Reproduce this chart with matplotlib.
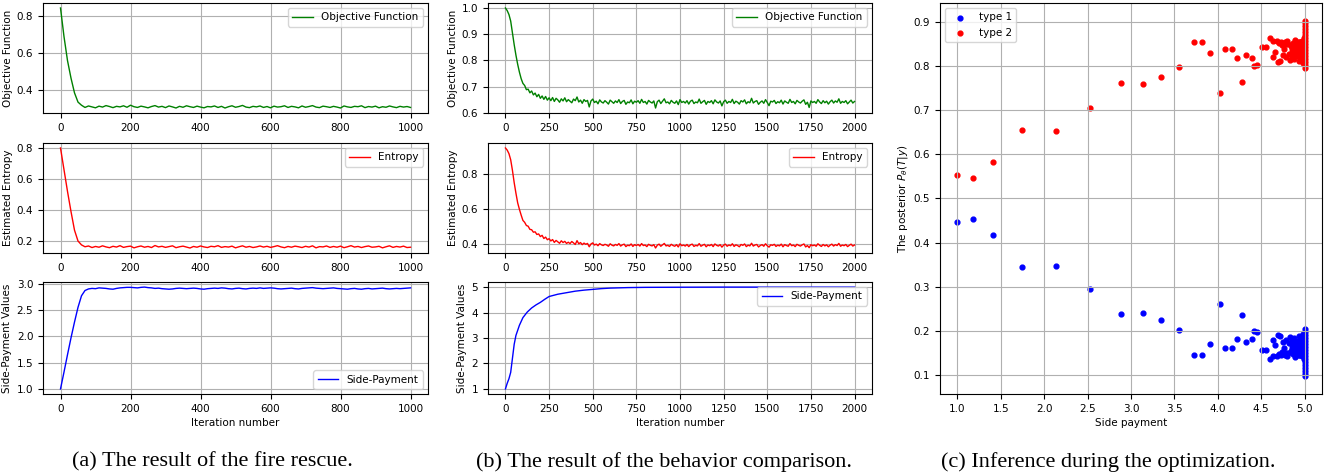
import matplotlib
matplotlib.use("Agg")
import matplotlib.pyplot as plt

# ---- (a) fire rescue, sampled every 10 iterations ----
iters_a = list(range(0, 1001, 10))

objective_a = [0.845, 0.690, 0.560, 0.465, 0.385, 0.335, 0.318, 0.306, 0.314, 0.309,
               0.304, 0.313, 0.308, 0.316, 0.311, 0.305, 0.312, 0.309, 0.315, 0.307,
               0.318, 0.310, 0.306, 0.313, 0.309, 0.304, 0.311, 0.316, 0.308, 0.312,
               0.305, 0.314, 0.309, 0.303, 0.312, 0.307, 0.315, 0.310, 0.306, 0.313,
               0.308, 0.304, 0.311, 0.309, 0.314, 0.306, 0.312, 0.303, 0.310, 0.315,
               0.307, 0.311, 0.317, 0.308, 0.305, 0.312, 0.309, 0.314, 0.306, 0.311,
               0.304, 0.313, 0.308, 0.310, 0.315, 0.306, 0.312, 0.309, 0.304, 0.314,
               0.307, 0.311, 0.316, 0.308, 0.305, 0.313, 0.310, 0.306, 0.312, 0.308,
               0.303, 0.314, 0.309, 0.306, 0.312, 0.310, 0.315, 0.305, 0.311, 0.308,
               0.313, 0.304, 0.310, 0.307, 0.314, 0.309, 0.305, 0.312, 0.308, 0.311, 0.306]

entropy_a = [0.800, 0.660, 0.520, 0.390, 0.270, 0.200, 0.175, 0.163, 0.168, 0.158,
             0.165, 0.160, 0.169, 0.162, 0.157, 0.166, 0.161, 0.170, 0.159, 0.164,
             0.167, 0.156, 0.163, 0.168, 0.160, 0.165, 0.158, 0.171, 0.162, 0.166,
             0.159, 0.164, 0.169, 0.157, 0.163, 0.167, 0.161, 0.155, 0.165, 0.160,
             0.168, 0.162, 0.158, 0.166, 0.163, 0.170, 0.159, 0.164, 0.161, 0.167,
             0.156, 0.163, 0.169, 0.160, 0.165, 0.158, 0.162, 0.168, 0.161, 0.166,
             0.159, 0.164, 0.170, 0.162, 0.157, 0.165, 0.160, 0.167, 0.163, 0.158,
             0.166, 0.161, 0.169, 0.156, 0.164, 0.162, 0.168, 0.159, 0.165, 0.160,
             0.167, 0.157, 0.163, 0.170, 0.161, 0.165, 0.158, 0.164, 0.168, 0.160,
             0.162, 0.166, 0.156, 0.163, 0.169, 0.159, 0.165, 0.161, 0.167, 0.158, 0.160]

side_payment_a = [1.00, 1.32, 1.65, 1.97, 2.27, 2.55, 2.77, 2.87, 2.90, 2.91,
                  2.905, 2.92, 2.915, 2.91, 2.90, 2.895, 2.91, 2.92, 2.925, 2.93,
                  2.93, 2.925, 2.92, 2.93, 2.935, 2.925, 2.92, 2.91, 2.915, 2.905,
                  2.90, 2.895, 2.90, 2.91, 2.915, 2.91, 2.905, 2.91, 2.915, 2.91,
                  2.90, 2.895, 2.905, 2.91, 2.915, 2.91, 2.92, 2.915, 2.905, 2.90,
                  2.91, 2.915, 2.905, 2.90, 2.91, 2.915, 2.91, 2.92, 2.91, 2.915,
                  2.92, 2.915, 2.905, 2.90, 2.905, 2.91, 2.915, 2.905, 2.90, 2.91,
                  2.915, 2.92, 2.925, 2.915, 2.91, 2.905, 2.91, 2.915, 2.92, 2.91,
                  2.905, 2.90, 2.895, 2.905, 2.91, 2.90, 2.895, 2.905, 2.91, 2.90,
                  2.905, 2.91, 2.915, 2.905, 2.90, 2.905, 2.91, 2.905, 2.91, 2.915, 2.92]

# ---- (b) behavior comparison, sampled every 10 iterations ----
iters_b = list(range(0, 2001, 10))

objective_b = [1.000, 0.990, 0.975, 0.950, 0.905, 0.860, 0.820, 0.785, 0.755, 0.730,
               0.712, 0.704, 0.688, 0.690, 0.676, 0.683, 0.668, 0.675, 0.661, 0.670,
               0.655, 0.664, 0.651, 0.662, 0.648, 0.657,
               0.646, 0.658, 0.643, 0.655, 0.649, 0.640, 0.653, 0.645, 0.657, 0.642,
               0.650, 0.644, 0.638, 0.652, 0.646, 0.660, 0.641, 0.648, 0.636, 0.650,
               0.643, 0.647, 0.622, 0.645, 0.652, 0.639, 0.644, 0.634, 0.649, 0.641,
               0.637, 0.646, 0.640, 0.633, 0.648, 0.642, 0.636, 0.645, 0.639, 0.650,
               0.635, 0.643, 0.647, 0.632, 0.641, 0.638, 0.649, 0.634, 0.644, 0.640,
               0.646, 0.636, 0.651, 0.639, 0.643, 0.633, 0.647, 0.641, 0.637, 0.645,
               0.618, 0.642, 0.648, 0.635, 0.644, 0.653, 0.638, 0.641, 0.634, 0.647,
               0.640, 0.636, 0.645, 0.631, 0.650, 0.639, 0.643, 0.637, 0.646, 0.633,
               0.644, 0.648, 0.635, 0.641, 0.638, 0.652, 0.636, 0.642, 0.647, 0.632,
               0.643, 0.639, 0.646, 0.634, 0.649, 0.641, 0.637, 0.645, 0.626, 0.642,
               0.648, 0.636, 0.643, 0.639, 0.651, 0.635, 0.644, 0.640, 0.633, 0.646,
               0.641, 0.649, 0.634, 0.642, 0.638, 0.655, 0.637, 0.643, 0.646, 0.632,
               0.640, 0.645, 0.636, 0.650, 0.639, 0.627, 0.644, 0.641, 0.647, 0.635,
               0.642, 0.638, 0.648, 0.633, 0.645, 0.640, 0.636, 0.651, 0.639, 0.643,
               0.634, 0.647, 0.641, 0.637, 0.644, 0.649, 0.632, 0.640, 0.620, 0.645,
               0.639, 0.643, 0.636, 0.650, 0.641, 0.635, 0.646, 0.638, 0.644, 0.633,
               0.642, 0.648, 0.637, 0.645, 0.640, 0.653, 0.636, 0.643, 0.639, 0.646,
               0.634, 0.641, 0.648, 0.637, 0.643]

entropy_b = [0.947, 0.935, 0.915, 0.880, 0.820, 0.750, 0.690, 0.635, 0.598, 0.565,
             0.535, 0.524, 0.506, 0.502, 0.484, 0.482, 0.468, 0.470, 0.455, 0.458,
             0.443, 0.450, 0.432, 0.440, 0.425, 0.431,
             0.418, 0.426, 0.410, 0.421, 0.413, 0.405, 0.419, 0.409, 0.416, 0.404,
             0.411, 0.403, 0.415, 0.407, 0.398, 0.420, 0.402, 0.409, 0.397, 0.406,
             0.399, 0.404, 0.385, 0.401, 0.407, 0.395, 0.400, 0.391, 0.403, 0.396,
             0.392, 0.399, 0.395, 0.388, 0.402, 0.394, 0.390, 0.398, 0.393, 0.403,
             0.389, 0.396, 0.400, 0.386, 0.394, 0.391, 0.401, 0.387, 0.397, 0.392,
             0.398, 0.389, 0.403, 0.392, 0.395, 0.386, 0.399, 0.393, 0.390, 0.397,
             0.378, 0.394, 0.400, 0.388, 0.396, 0.404, 0.390, 0.393, 0.387, 0.399,
             0.392, 0.388, 0.397, 0.384, 0.402, 0.391, 0.395, 0.389, 0.398, 0.386,
             0.396, 0.400, 0.387, 0.393, 0.390, 0.403, 0.388, 0.394, 0.399, 0.385,
             0.395, 0.391, 0.398, 0.386, 0.401, 0.393, 0.389, 0.397, 0.383, 0.394,
             0.400, 0.388, 0.395, 0.391, 0.402, 0.387, 0.396, 0.392, 0.385, 0.398,
             0.393, 0.401, 0.386, 0.394, 0.390, 0.405, 0.389, 0.395, 0.398, 0.384,
             0.392, 0.397, 0.388, 0.402, 0.391, 0.383, 0.396, 0.393, 0.399, 0.387,
             0.394, 0.390, 0.400, 0.385, 0.397, 0.392, 0.388, 0.403, 0.391, 0.395,
             0.386, 0.399, 0.393, 0.389, 0.396, 0.401, 0.384, 0.392, 0.380, 0.397,
             0.391, 0.395, 0.388, 0.402, 0.393, 0.387, 0.398, 0.390, 0.396, 0.385,
             0.394, 0.400, 0.389, 0.397, 0.392, 0.404, 0.388, 0.395, 0.391, 0.398,
             0.386, 0.393, 0.400, 0.389, 0.395]

iters_sp_b = [0, 10, 20, 30, 40, 50, 60, 80, 100, 125, 150, 175, 200, 225, 250,
              300, 350, 400, 450, 500, 550, 600, 700, 800, 1000, 1250, 1500, 1750, 2000]
side_payment_b = [1.00, 1.22, 1.40, 1.65, 2.20, 2.75, 3.10, 3.50, 3.80, 4.02, 4.18, 4.30,
                  4.40, 4.52, 4.63, 4.72, 4.78, 4.84, 4.88, 4.91, 4.94, 4.96, 4.98,
                  4.99, 4.995, 5.0, 5.0, 5.0, 5.0]

# ---- (c) posterior vs side payment ----
side_payment_c = [1.00, 1.18, 1.41, 1.74, 2.14, 2.53, 2.89, 3.14, 3.35, 3.55,
                  3.72, 3.82, 3.91, 4.02, 4.08, 4.16, 4.22, 4.28, 4.33, 4.39,
                  4.42, 4.45, 4.51, 4.55, 4.60, 4.63, 4.64, 4.66, 4.68, 4.69,
                  4.72, 4.73, 4.75, 4.76, 4.78, 4.79, 4.80, 4.82, 4.83, 4.84,
                  4.86, 4.87, 4.88, 4.89, 4.90, 4.91, 4.92, 4.93, 4.94, 4.95,
                  4.96, 4.97, 4.97, 4.98, 4.98, 4.99, 4.99,
                  4.85, 4.87, 4.88, 4.90, 4.91, 4.92, 4.93, 4.94, 4.95, 4.96,
                  4.96, 4.97, 4.97, 4.98, 4.98, 4.99, 4.99, 4.99, 4.86, 4.89,
                  4.70, 4.74, 4.77, 4.81,
                  5.00, 5.00, 5.00, 5.00, 5.00, 5.00, 5.00, 5.00, 5.00, 5.00,
                  5.00, 5.00, 5.00, 5.00, 5.00, 5.00, 5.00]
posterior_type1 = [0.447, 0.453, 0.418, 0.345, 0.348, 0.295, 0.239, 0.240, 0.224, 0.201,
                   0.146, 0.145, 0.171, 0.261, 0.161, 0.160, 0.181, 0.235, 0.175, 0.182,
                   0.199, 0.197, 0.157, 0.156, 0.136, 0.142, 0.179, 0.168, 0.143, 0.190,
                   0.189, 0.145, 0.175, 0.162, 0.180, 0.150, 0.143, 0.172, 0.186, 0.155,
                   0.160, 0.148, 0.183, 0.140, 0.165, 0.175, 0.152, 0.188, 0.145, 0.170,
                   0.158, 0.180, 0.142, 0.192, 0.150, 0.165, 0.135,
                   0.168, 0.158, 0.172, 0.150, 0.162, 0.178, 0.146, 0.167, 0.155, 0.183,
                   0.163, 0.149, 0.175, 0.157, 0.170, 0.144, 0.186, 0.159, 0.176, 0.153,
                   0.148, 0.152, 0.146, 0.150,
                   0.205, 0.198, 0.190, 0.183, 0.176, 0.170, 0.163, 0.156, 0.150, 0.143,
                   0.136, 0.129, 0.122, 0.115, 0.108, 0.101, 0.097]
posterior_type2 = [0.553, 0.547, 0.582, 0.655, 0.652, 0.705, 0.761, 0.760, 0.776, 0.799,
                   0.854, 0.855, 0.829, 0.739, 0.839, 0.840, 0.819, 0.765, 0.825, 0.818,
                   0.801, 0.803, 0.843, 0.844, 0.864, 0.858, 0.821, 0.832, 0.857, 0.810,
                   0.811, 0.855, 0.825, 0.838, 0.820, 0.850, 0.857, 0.828, 0.814, 0.845,
                   0.840, 0.852, 0.817, 0.860, 0.835, 0.825, 0.848, 0.812, 0.855, 0.830,
                   0.842, 0.820, 0.858, 0.808, 0.850, 0.835, 0.865,
                   0.832, 0.842, 0.828, 0.850, 0.838, 0.822, 0.854, 0.833, 0.845, 0.817,
                   0.837, 0.851, 0.825, 0.843, 0.830, 0.856, 0.814, 0.841, 0.824, 0.847,
                   0.852, 0.848, 0.854, 0.850,
                   0.795, 0.802, 0.810, 0.817, 0.824, 0.830, 0.837, 0.844, 0.850, 0.857,
                   0.864, 0.871, 0.878, 0.885, 0.892, 0.899, 0.903]

captions = ["(a) The result of the fire rescue.",
            "(b) The result of the behavior comparison.",
            "(c) Inference during the optimization."]

FS = 7.5
plt.rcParams["font.size"] = FS
plt.rcParams["axes.labelpad"] = 3
W, H = 1338, 476


def px_axes(fig, left, top, right, bottom):
    # place axes by pixel box measured on the reference
    return fig.add_axes([left / W, 1 - bottom / H, (right - left) / W, (bottom - top) / H])


fig = plt.figure(figsize=(W / 100, H / 100), dpi=100)

rows = [(3, 113), (143, 253), (282, 394)]

# column (a)
ax = px_axes(fig, 43, rows[0][0], 428, rows[0][1])
ax.plot(iters_a, objective_a, color="green", lw=1, label="Objective Function")
ax.set_ylabel("Objective Function")
ax.legend(loc="upper right")
ax.grid(True)

ax = px_axes(fig, 43, rows[1][0], 428, rows[1][1])
ax.plot(iters_a, entropy_a, color="red", lw=1, label="Entropy")
ax.set_ylabel("Estimated Entropy")
ax.legend(loc="upper right")
ax.grid(True)

ax = px_axes(fig, 43, rows[2][0], 428, rows[2][1])
ax.plot(iters_a, side_payment_a, color="blue", lw=1, label="Side-Payment")
ax.set_ylabel("Side-Payment Values")
ax.set_xlabel("Iteration number")
ax.legend(loc="lower right")
ax.grid(True)

# column (b)
ax = px_axes(fig, 488, rows[0][0], 872, rows[0][1])
ax.plot(iters_b, objective_b, color="green", lw=1, label="Objective Function")
ax.set_ylabel("Objective Function")
ax.set_xticks(range(0, 2001, 250))
ax.legend(loc="upper right")
ax.grid(True)

ax = px_axes(fig, 488, rows[1][0], 872, rows[1][1])
ax.plot(iters_b, entropy_b, color="red", lw=1, label="Entropy")
ax.set_ylabel("Estimated Entropy")
ax.set_xticks(range(0, 2001, 250))
ax.legend(loc="upper right")
ax.grid(True)

ax = px_axes(fig, 488, rows[2][0], 872, rows[2][1])
ax.plot(iters_sp_b, side_payment_b, color="blue", lw=1, label="Side-Payment")
ax.set_ylabel("Side-Payment Values")
ax.set_xlabel("Iteration number")
ax.set_xticks(range(0, 2001, 250))
ax.legend(loc="upper right")
ax.grid(True)

# column (c)
ax = px_axes(fig, 940, 3, 1322, 394)
ax.scatter(side_payment_c, posterior_type1, color="blue", s=12, label="type 1")
ax.scatter(side_payment_c, posterior_type2, color="red", s=12, label="type 2")
ax.set_xlabel("Side payment")
ax.set_ylabel(r"The posterior $P_\theta(T|y)$")
ax.legend(loc="upper left")
ax.grid(True)

for cx, text in zip([212, 664, 1108], captions):
    fig.text(cx / W, 1 - 462 / H, text, ha="center", va="center",
             family="Liberation Serif", fontsize=16)

fig.savefig("out.png", dpi=100)
print("saved out.png")
